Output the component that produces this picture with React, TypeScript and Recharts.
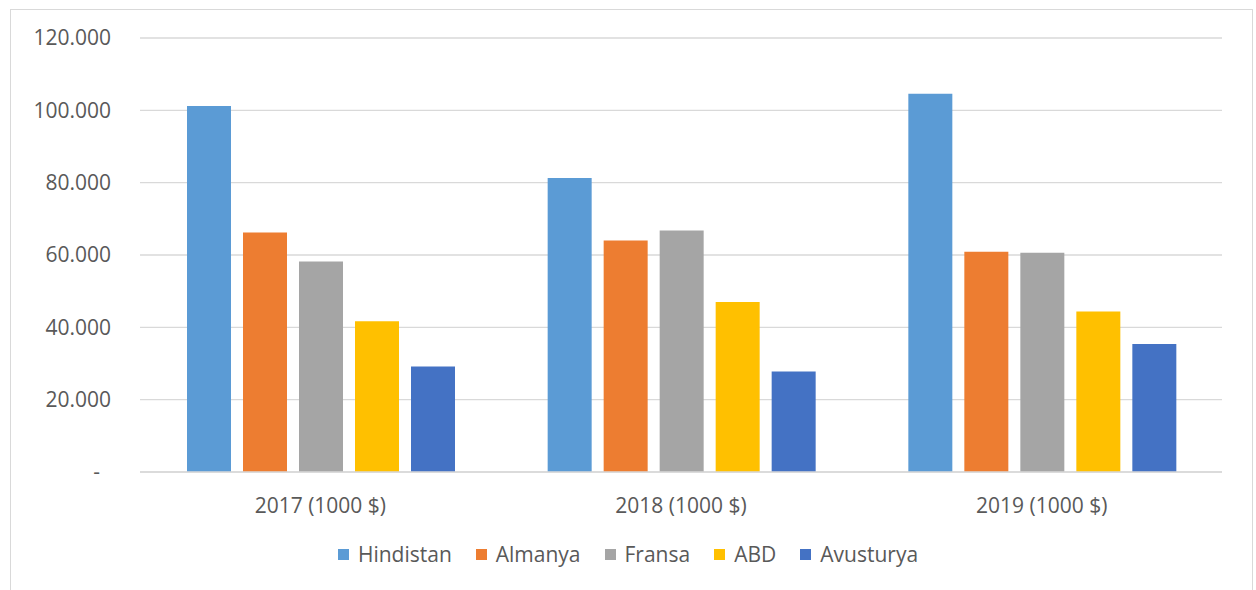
import { BarChart, Bar, XAxis, YAxis, CartesianGrid, Legend } from "recharts";

const years = ["2017 (1000 $)", "2018 (1000 $)", "2019 (1000 $)"];
const hindistan = [101200, 81300, 104600];
const almanya = [66200, 64000, 60900];
const fransa = [58200, 66800, 60600];
const abd = [41700, 47000, 44400];
const avusturya = [29200, 27800, 35400];
const yTicks = [0, 20000, 40000, 60000, 80000, 100000, 120000];

const series = [
  { key: "Hindistan", color: "#5B9BD5" },
  { key: "Almanya", color: "#ED7D31" },
  { key: "Fransa", color: "#A5A5A5" },
  { key: "ABD", color: "#FFC000" },
  { key: "Avusturya", color: "#4472C4" },
];

const data = years.map((y, i) => ({
  year: y,
  Hindistan: hindistan[i],
  Almanya: almanya[i],
  Fransa: fransa[i],
  ABD: abd[i],
  Avusturya: avusturya[i],
}));

const font = "'Open Sans', sans-serif";
const textColor = "#595959";

const fmtY = (v: number) => (v === 0 ? "-\u00a0\u00a0" : `${v / 1000}.000`);

// legend keeps the series order (recharts sorts its payload by name)
const LegendBox = () => (
  <div style={{ display: "flex", justifyContent: "center", gap: 24, fontFamily: font, fontSize: 21, color: textColor }}>
    {series.map((s) => (
      <div key={s.key} style={{ display: "flex", alignItems: "center" }}>
        <span style={{ width: 11, height: 11, background: s.color, marginRight: 9, display: "inline-block" }} />
        <span>{s.key}</span>
      </div>
    ))}
  </div>
);

export default function App() {
  return (
    <div style={{ position: "absolute", left: 0, top: 0, width: 1256, height: 590, background: "#fff", overflow: "hidden" }}>
      <div
        style={{
          position: "absolute", left: 10, top: 9, width: 1243, height: 600,
          border: "1px solid #d9d9d9", boxSizing: "border-box",
        }}
      />
      <BarChart
        width={1256}
        height={590}
        data={data}
        margin={{ top: 38, right: 34, bottom: 78, left: 40 }}
        barCategoryGap={47}
        barGap={12}
        style={{ position: "absolute", left: 0, top: 0 }}
      >
        <CartesianGrid vertical={false} stroke="#d9d9d9" strokeWidth={1.3} />
        <XAxis
          dataKey="year"
          height={40}
          tickLine={false}
          axisLine={{ stroke: "#d9d9d9", strokeWidth: 1.3 }}
          tickMargin={20}
          tick={{ fontSize: 21, fill: textColor, fontFamily: font }}
        />
        <YAxis
          width={100}
          domain={[0, 120000]}
          ticks={yTicks}
          tickFormatter={fmtY}
          axisLine={false}
          tickLine={false}
          tickMargin={23}
          tick={{ fontSize: 21, fill: textColor, fontFamily: font }}
        />
        <Legend
          verticalAlign="middle"
          align="center"
          content={<LegendBox />}
          wrapperStyle={{ top: 540, left: 0, width: 1256 }}
        />
        {series.map((s) => (
          <Bar key={s.key} dataKey={s.key} fill={s.color} isAnimationActive={false} />
        ))}
      </BarChart>
    </div>
  );
}
